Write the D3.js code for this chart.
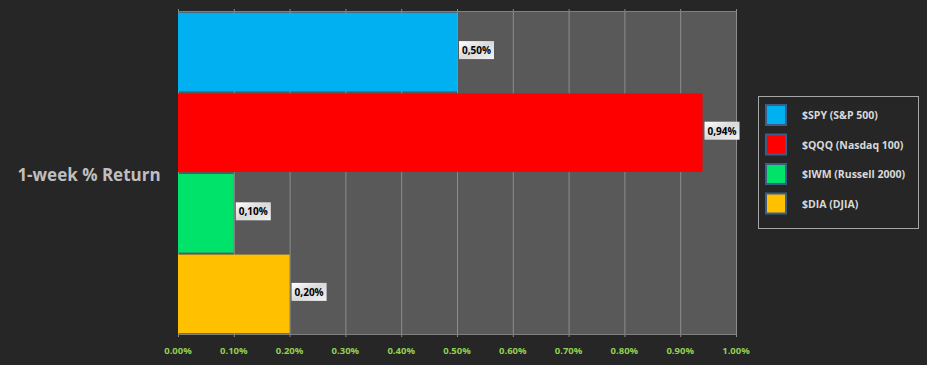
<!DOCTYPE html>
<html>
<head>
<meta charset="utf-8">
<script src="https://cdn.jsdelivr.net/npm/d3@7/dist/d3.min.js"></script>
<style>
  body { margin: 0; background: #262626; }
  svg { display: block; font-family: "Open Sans", sans-serif; }
</style>
</head>
<body>
<div id="chart"></div>
<script>
var categories = ["$SPY (S&P 500)", "$QQQ (Nasdaq 100)", "$IWM (Russell 2000)", "$DIA (DJIA)"];
var returns = [0.50, 0.94, 0.10, 0.20];
var colors = ["#00B0F0", "#FF0000", "#00E36B", "#FFC000"];
var tickValues = [0, 0.1, 0.2, 0.3, 0.4, 0.5, 0.6, 0.7, 0.8, 0.9, 1.0];
var groupLabel = "1-week % Return";

var width = 927, height = 365;
var plotLeft = 178, plotRight = 736, plotTop = 12, plotBottom = 334;

var svg = d3.select("#chart").append("svg")
    .attr("width", width).attr("height", height);

svg.append("rect").attr("width", width).attr("height", height).attr("fill", "#262626");

var x = d3.scaleLinear().domain([0, 1]).range([plotLeft, plotRight]);
var y = d3.scaleBand().domain(categories).range([plotTop, plotBottom]).paddingInner(0.025).paddingOuter(0.01);

// plot background
svg.append("rect")
  .attr("x", plotLeft).attr("y", plotTop)
  .attr("width", plotRight - plotLeft).attr("height", plotBottom - plotTop)
  .attr("fill", "#595959");

// gridlines
svg.append("g").selectAll("line")
  .data(tickValues)
  .enter().append("line")
  .attr("x1", function(d){ return x(d) + 0.5; })
  .attr("x2", function(d){ return x(d) + 0.5; })
  .attr("y1", plotTop - 3).attr("y2", plotBottom + 3)
  .attr("stroke", "#8c8c8c").attr("stroke-width", 1);

svg.append("line")
  .attr("x1", plotLeft).attr("x2", plotRight).attr("y1", plotTop - 0.5).attr("y2", plotTop - 0.5)
  .attr("stroke", "#808080");
svg.append("line")
  .attr("x1", plotLeft).attr("x2", plotRight).attr("y1", plotBottom + 0.5).attr("y2", plotBottom + 0.5)
  .attr("stroke", "#808080");

// bars
svg.append("g").selectAll("rect")
  .data(returns)
  .enter().append("rect")
  .attr("x", x(0))
  .attr("y", function(d, i){ return y(categories[i]); })
  .attr("width", function(d){ return x(d) - x(0); })
  .attr("height", y.bandwidth())
  .attr("fill", function(d, i){ return colors[i]; });

// data labels
var defs = svg.append("defs");
var grad = defs.append("linearGradient").attr("id", "lblGrad")
  .attr("x1", "0").attr("y1", "0").attr("x2", "1").attr("y2", "1");
grad.append("stop").attr("offset", "0%").attr("stop-color", "#ffffff");
grad.append("stop").attr("offset", "50%").attr("stop-color", "#d9d9d9");
grad.append("stop").attr("offset", "100%").attr("stop-color", "#f2f2f2");

var labels = svg.append("g").selectAll("g")
  .data(returns)
  .enter().append("g")
  .attr("transform", function(d, i){
    return "translate(" + (x(d) + 2) + "," + (y(categories[i]) + y.bandwidth() / 2 - 2) + ")";
  });

labels.append("rect")
  .attr("x", 0).attr("y", -9).attr("width", 35).attr("height", 18)
  .attr("fill", "url(#lblGrad)");

labels.append("text")
  .attr("x", 3).attr("y", 4)
  .attr("font-size", "10px").attr("font-weight", "700")
  .attr("fill", "#000")
  .text(function(d){ return d.toFixed(2).replace(".", ",") + "%"; });

// x axis labels
svg.append("g").selectAll("text")
  .data(tickValues)
  .enter().append("text")
  .attr("x", function(d){ return x(d); })
  .attr("y", 354)
  .attr("text-anchor", "middle")
  .attr("font-size", "9.5px").attr("font-weight", "700")
  .attr("fill", "#92D050")
  .text(function(d){ return d.toFixed(2) + "%"; });

// group label
svg.append("text")
  .attr("x", 89).attr("y", 181)
  .attr("text-anchor", "middle")
  .attr("font-size", "17px").attr("font-weight", "700")
  .attr("fill", "#bfbfbf")
  .text(groupLabel);

// legend
var legend = svg.append("g").attr("transform", "translate(758,96)");
legend.append("rect")
  .attr("x", 0.5).attr("y", 0.5).attr("width", 160).attr("height", 132)
  .attr("fill", "#262626").attr("stroke", "#a6a6a6");

var items = legend.selectAll("g.item")
  .data(categories)
  .enter().append("g")
  .attr("class", "item")
  .attr("transform", function(d, i){ return "translate(0," + (9 + i * 29.5) + ")"; });

items.append("rect")
  .attr("x", 8).attr("y", 0).attr("width", 20).attr("height", 20)
  .attr("fill", function(d, i){ return colors[i]; })
  .attr("stroke", "#3b5e86").attr("stroke-width", 2);

items.append("text")
  .attr("x", 44).attr("y", 14)
  .attr("font-size", "10.5px").attr("font-weight", "700")
  .attr("fill", "#d9d9d9")
  .text(function(d){ return d; });
</script>
</body>
</html>
